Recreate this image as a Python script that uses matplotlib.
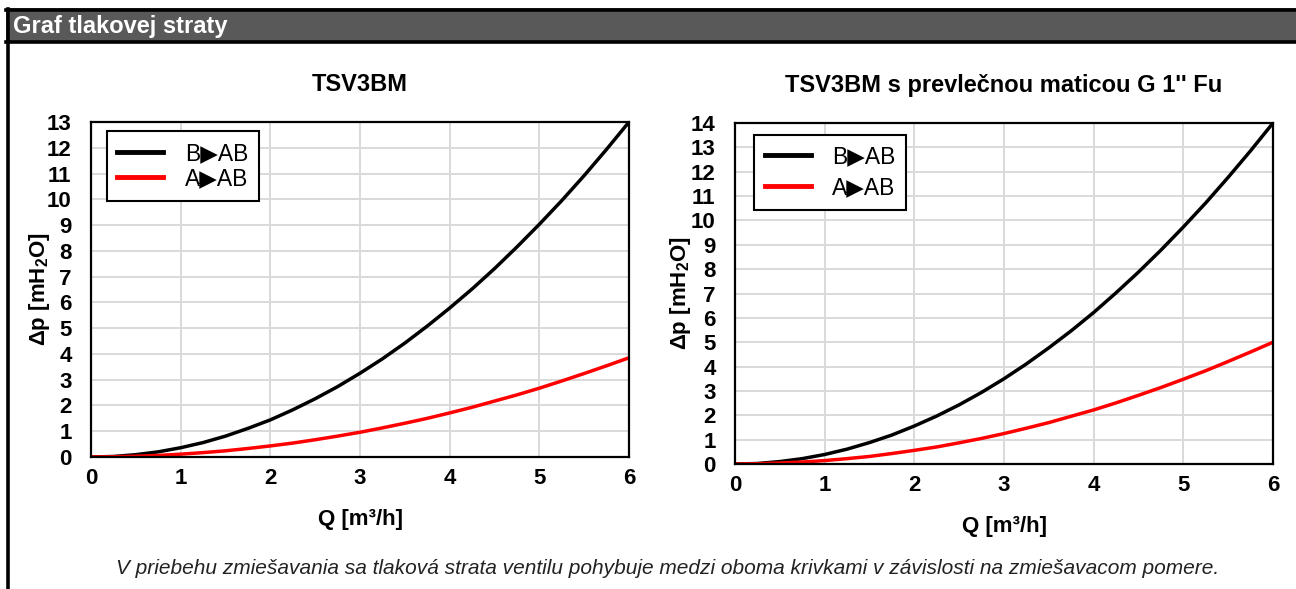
import matplotlib
matplotlib.use("Agg")
import matplotlib.pyplot as plt
from matplotlib.patches import Rectangle
from matplotlib.lines import Line2D

plt.rcParams['font.family'] = ['Liberation Sans', 'DejaVu Sans']
plt.rcParams['mathtext.fontset'] = 'custom'
plt.rcParams['mathtext.rm'] = 'Liberation Sans:bold'
plt.rcParams['mathtext.it'] = 'Liberation Sans:bold:italic'
plt.rcParams['mathtext.bf'] = 'Liberation Sans:bold'

# data (Q in m3/h, dp in mH2O)
q = [0, 0.25, 0.5, 0.75, 1, 1.25, 1.5, 1.75, 2, 2.25, 2.5, 2.75, 3,
     3.25, 3.5, 3.75, 4, 4.25, 4.5, 4.75, 5, 5.25, 5.5, 5.75, 6]
left_b = [0, 0.02, 0.09, 0.20, 0.36, 0.56, 0.81, 1.11, 1.44, 1.83, 2.26, 2.73, 3.25,
          3.81, 4.42, 5.08, 5.78, 6.52, 7.31, 8.15, 9.03, 9.95, 10.92, 11.94, 13.0]
left_a = [0, 0.01, 0.03, 0.06, 0.11, 0.17, 0.24, 0.33, 0.43, 0.54, 0.67, 0.81, 0.96,
          1.13, 1.31, 1.50, 1.71, 1.93, 2.17, 2.41, 2.67, 2.95, 3.24, 3.54, 3.85]
right_b = [0, 0.02, 0.10, 0.22, 0.39, 0.61, 0.88, 1.19, 1.56, 1.97, 2.43, 2.94, 3.50,
           4.11, 4.77, 5.47, 6.22, 7.03, 7.88, 8.78, 9.73, 10.72, 11.77, 12.86, 14.0]
right_a = [0, 0.01, 0.04, 0.08, 0.14, 0.22, 0.31, 0.43, 0.56, 0.70, 0.87, 1.05, 1.25,
           1.47, 1.70, 1.96, 2.22, 2.51, 2.82, 3.14, 3.48, 3.83, 4.21, 4.60, 5.0]

series_names = ['B\u25b6AB', 'A\u25b6AB']
titles = ['TSV3BM', "TSV3BM s prevlečnou maticou G 1'' Fu"]
header = 'Graf tlakovej straty'
footer = 'V priebehu zmiešavania sa tlaková strata ventilu pohybuje medzi oboma krivkami v závislosti na zmiešavacom pomere.'

W, H = 1296, 589
fig = plt.figure(figsize=(W / 100, H / 100), dpi=100)

# header bar + frame
fig.add_artist(Rectangle((6 / W, 1 - 43 / H), 1 - 6 / W, 35 / H, transform=fig.transFigure,
                         facecolor='#595959', edgecolor='none'))
fig.add_artist(Line2D([6 / W, 1], [1 - 9.5 / H, 1 - 9.5 / H], transform=fig.transFigure, color='black', lw=2.6))
fig.add_artist(Line2D([6 / W, 1], [1 - 42 / H, 1 - 42 / H], transform=fig.transFigure, color='black', lw=2.6))
fig.add_artist(Line2D([7.5 / W, 7.5 / W], [0, 1 - 8.5 / H], transform=fig.transFigure, color='black', lw=2.6))
fig.text(13 / W, 1 - 27 / H, header, color='white', fontsize=17, fontweight='bold', va='center', ha='left')

fig.text(668 / W, 1 - 569 / H, footer, fontsize=15, style='italic', ha='center', va='center', color='#222222')


def make_chart(rect, ymax, b, a, title, legend_spacing, legend_pos, ylab_x):
    ax = fig.add_axes(rect)
    ax.plot(q, b, color='black', lw=2.5, label=series_names[0], zorder=3)
    ax.plot(q, a, color='#ff0000', lw=2.5, label=series_names[1], zorder=3)
    ax.set_xlim(0, 6)
    ax.set_ylim(0, ymax)
    ax.set_xticks(range(0, 7))
    ax.set_yticks(range(0, ymax + 1))
    ax.grid(True, color='#d9d9d9', lw=1.4)
    ax.set_axisbelow(True)
    for s in ax.spines.values():
        s.set_color('black')
        s.set_linewidth(1.6)
        s.set_zorder(4)
    ax.tick_params(length=0, labelsize=16)
    ax.tick_params(axis='x', pad=8)
    ax.tick_params(axis='y', pad=14)
    for lab in ax.get_xticklabels() + ax.get_yticklabels():
        lab.set_fontweight('bold')
    ax.set_title(title, fontsize=17, fontweight='bold', pad=22)
    ax.set_xlabel('Q [m³/h]', fontsize=16, fontweight='bold', labelpad=14)
    ax.set_ylabel('Δp [mH$_2$O]', fontsize=16, fontweight='bold')
    ax.yaxis.set_label_coords(ylab_x, 0.5)
    leg = ax.legend(loc='upper left', bbox_to_anchor=legend_pos, fontsize=16.5, fancybox=False,
                    edgecolor='black', framealpha=1, handlelength=2.0, handletextpad=0.95,
                    labelspacing=legend_spacing, borderpad=0.45, borderaxespad=0)
    leg.get_frame().set_linewidth(1.5)
    for ln in leg.get_lines():
        ln.set_linewidth(3.5)
    return ax


make_chart([91 / W, 1 - 457 / H, 538 / W, 335 / H], 13, left_b, left_a, titles[0], 0.12, (0.03, 0.972), -0.073)
make_chart([735 / W, 1 - 464 / H, 538 / W, 341 / H], 14, right_b, right_a, titles[1], 0.35, (0.036, 0.965), -0.078)

fig.savefig('out.png', dpi=100)
